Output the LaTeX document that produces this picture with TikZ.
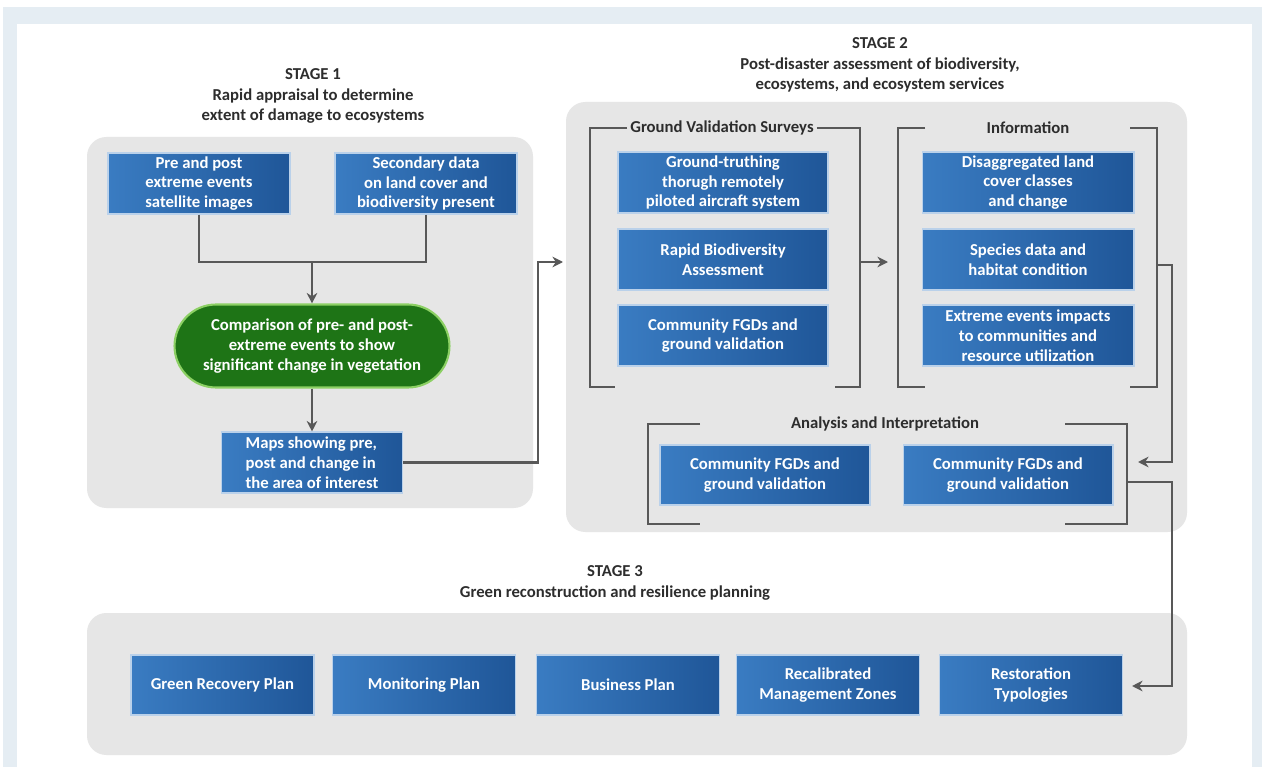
\documentclass[tikz,border=0pt]{standalone}
\usepackage{fontspec}
\setmainfont{Carlito}
\usetikzlibrary{arrows.meta, positioning, calc}
\usepackage{xcolor}

\definecolor{frameblue}{RGB}{229,237,243}
\definecolor{panelgray}{RGB}{230,230,230}
\definecolor{boxblue}{RGB}{58,124,194}
\definecolor{boxdark}{RGB}{31,86,152}
\definecolor{pillgreen}{RGB}{30,116,22}
\definecolor{pillrim}{RGB}{140,208,100}
\definecolor{linegray}{RGB}{88,88,88}
\definecolor{titlegray}{RGB}{45,45,45}

\begin{document}
\begin{tikzpicture}[
    x=0.02cm, y=-0.02cm,
    panel/.style = {fill=panelgray, rounded corners=11pt},
    box/.style = {rectangle, left color=boxblue, right color=boxdark, draw=boxblue!35!white, line width=0.6pt, text=white, align=center, inner sep=0pt, font=\bfseries\fontsize{9.5}{11.3}\selectfont, minimum width=4.2cm, minimum height=1.22cm},
    pill/.style = {rectangle, rounded corners=0.83cm, fill=pillgreen, draw=pillrim, line width=1.2pt, text=white, align=center, font=\bfseries\fontsize{9.5}{11.3}\selectfont, minimum width=5.5cm, minimum height=1.66cm},
    stagetitle/.style = {align=center, text=titlegray, font=\bfseries\fontsize{9.5}{11.6}\selectfont},
    brtitle/.style = {text=titlegray, font=\bfseries\fontsize{9.5}{11.3}\selectfont, inner sep=0pt},
    bracket/.style = {draw=linegray, line width=1.6pt},
    link/.style = {draw=linegray, line width=1.5pt},
    arrow/.style = {draw=linegray, line width=1.5pt, -{Stealth[length=6pt,width=6pt]}}
]
\useasboundingbox (0,0) rectangle (1262,767);

% Frame
\fill[frameblue] (3,7) rectangle (1262,767);
\fill[white] (17,24) rectangle (1252,767);

% Panels
\fill[panel] (87,137) rectangle (533,508);
\fill[panel] (566,102) rectangle (1187,532);
\fill[panel] (87,613) rectangle (1187,755);

% Stage titles
\node (stage1) [stagetitle] at (313,96) {STAGE 1\\Rapid appraisal to determine\\extent of damage to ecosystems};
\node (stage2) [stagetitle] at (880,65) {STAGE 2\\Post-disaster assessment of biodiversity,\\ecosystems, and ecosystem services};
\node (stage3) [stagetitle] at (615,583) {STAGE 3\\Green reconstruction and resilience planning};

% Stage 1
\node (satellite) [box, minimum width=3.64cm] at (199,183.5) {Pre and post\\extreme events\\satellite images};
\node (secondary) [box, minimum width=3.64cm] at (426,183.5) {Secondary data\\on land cover and\\biodiversity present};
\node (compare) [pill] at (312,346) {Comparison of pre- and post-\\extreme events to show\\significant change in vegetation};
\node (maps) [box, minimum width=3.62cm, align=left] at (312,462.5) {Maps showing pre,\\post and change in\\the area of interest};

% Stage 2: ground validation surveys
\node (rpas) [box] at (723,182.5) {Ground-truthing\\thorugh remotely\\piloted aircraft system};
\node (rba) [box] at (723,259.5) {Rapid Biodiversity\\Assessment};
\node (fgd) [box] at (723,335.5) {Community FGDs and\\ground validation};

% Stage 2: information
\node (landcover) [box, minimum width=4.24cm] at (1028,182.5) {Disaggregated land\\cover classes\\and change};
\node (species) [box, minimum width=4.24cm] at (1028,259.5) {Species data and\\habitat condition};
\node (impacts) [box, minimum width=4.24cm] at (1028,335.5) {Extreme events impacts\\to communities and\\resource utilization};

% Stage 2: analysis
\node (analysisA) [box, minimum height=1.2cm] at (765,475) {Community FGDs and\\ground validation};
\node (analysisB) [box, minimum height=1.2cm] at (1008,475) {Community FGDs and\\ground validation};

% Stage 3
\node (recovery) [box, minimum width=3.66cm, minimum height=1.2cm] at (222.5,685) {Green Recovery Plan};
\node (monitoring) [box, minimum width=3.66cm, minimum height=1.2cm] at (424,685) {Monitoring Plan};
\node (business) [box, minimum width=3.66cm, minimum height=1.2cm] at (628,685) {Business Plan};
\node (zones) [box, minimum width=3.66cm, minimum height=1.2cm] at (828,685) {Recalibrated\\Management Zones};
\node (restore) [box, minimum width=3.66cm, minimum height=1.2cm] at (1031,685) {Restoration\\Typologies};

% Brackets
\node (gvstitle) [brtitle] at (722,128) {Ground Validation Surveys};
\draw[bracket] (gvstitle.west) ++(-3,0) -- (590,128) -- (590,387) -- (615,387);
\draw[bracket] (gvstitle.east) ++(3,0) -- (860,128) -- (860,387) -- (835,387);
\node (infotitle) [brtitle] at (1028,128) {Information};
\draw[bracket] (925,128) -- (898,128) -- (898,387) -- (925,387);
\draw[bracket] (1130,128) -- (1157,128) -- (1157,387) -- (1130,387);
\node (anatitle) [brtitle] at (885,424) {Analysis and Interpretation};
\draw[bracket] (700,424) -- (648,424) -- (648,524) -- (700,524);
\draw[bracket] (1065,424) -- (1127,424) -- (1127,524) -- (1065,524);

% Connectors
\coordinate (join) at (312,262);
\coordinate (gvsin) at (563,262);
\coordinate (gvsout) at (860,262);
\coordinate (infoin) at (888,262);
\coordinate (infoout) at (1157,265);
\coordinate (anain) at (1138,462);
\coordinate (anaout) at (1127,482);
\coordinate (stage3in) at (1132,686);

\draw[link] (satellite.south) |- (join);
\draw[link] (secondary.south) |- (join);
\draw[arrow] (join) -- (compare.north);
\draw[arrow] (compare.south) -- (maps.north);
\draw[arrow] (maps.east) -| (538,262) -- (gvsin);
\draw[arrow] (gvsout) -- (infoin);
\draw[arrow] (infoout) -- ++(15,0) |- (anain);
\draw[arrow] (anaout) -- ++(45,0) |- (stage3in);

\end{tikzpicture}
\end{document}
